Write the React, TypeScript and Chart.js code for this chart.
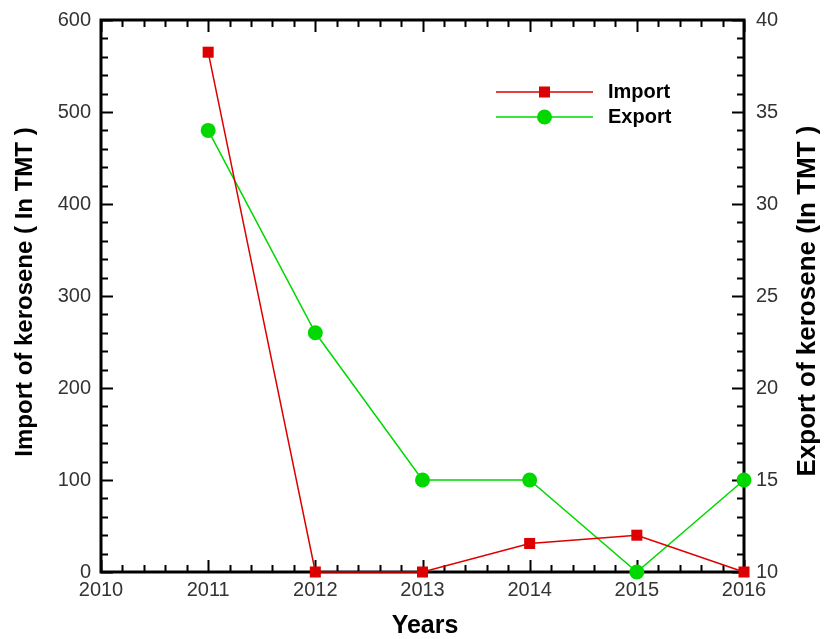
import React, { useEffect, useRef } from "react";
import { Chart, registerables } from "chart.js";

Chart.register(...registerables);

const years = [2011, 2012, 2013, 2014, 2015, 2016];
const importValues = [565, 0, 0, 31, 40, 0];
const exportValues = [34, 23, 15, 15, 10, 15];

const xTitle = "Years";
const leftTitle = "Import of kerosene ( In TMT )";
const rightTitle = "Export of kerosene (In TMT )";
const importLabel = "Import";
const exportLabel = "Export";

const RED = "#dd0000";
const GREEN = "#00d800";
const FONT = "'Liberation Sans', Arial, sans-serif";

const framePlugin = {
  id: "framePlugin",
  beforeDatasetsDraw(chart: any) {
    const { ctx, chartArea: a, scales } = chart;
    const x = scales.x;
    const yl = scales.y;
    ctx.save();
    ctx.strokeStyle = "#000";
    ctx.lineWidth = 2;
    for (let v = 2010; v <= 2016.0001; v += 0.2) {
      const px = Math.round(x.getPixelForValue(v)) + 0.5;
      const major = Math.abs(v - Math.round(v)) < 1e-6;
      const len = major ? 12 : 7;
      ctx.beginPath();
      ctx.moveTo(px, a.bottom);
      ctx.lineTo(px, a.bottom - len);
      ctx.moveTo(px, a.top);
      ctx.lineTo(px, a.top + len);
      ctx.stroke();
    }
    for (let v = 0; v <= 600.0001; v += 20) {
      const py = Math.round(yl.getPixelForValue(v)) + 0.5;
      const major = Math.abs(v / 100 - Math.round(v / 100)) < 1e-6;
      const len = major ? 12 : 7;
      ctx.beginPath();
      ctx.moveTo(a.left, py);
      ctx.lineTo(a.left + len, py);
      ctx.moveTo(a.right, py);
      ctx.lineTo(a.right - len, py);
      ctx.stroke();
    }
    ctx.lineWidth = 3;
    ctx.strokeRect(a.left, a.top, a.right - a.left, a.bottom - a.top);
    ctx.restore();
  },
  afterDraw(chart: any) {
    const { ctx } = chart;
    ctx.save();
    ctx.fillStyle = "#000";
    ctx.font = `bold 25px ${FONT}`;
    ctx.textAlign = "center";
    ctx.textBaseline = "middle";
    ctx.fillText(xTitle, 425, 626);

    ctx.font = `bold 24px ${FONT}`;
    ctx.save();
    ctx.translate(25, 292);
    ctx.rotate(-Math.PI / 2);
    ctx.fillText(leftTitle, 0, 0);
    ctx.restore();

    ctx.font = `bold 26px ${FONT}`;
    ctx.save();
    ctx.translate(808, 301);
    ctx.rotate(-Math.PI / 2);
    ctx.fillText(rightTitle, 0, 0);
    ctx.restore();

    const lx0 = 496;
    const lx1 = 593;
    const rows = [
      { y: 92, color: RED, label: importLabel, square: true },
      { y: 117, color: GREEN, label: exportLabel, square: false },
    ];
    for (const r of rows) {
      ctx.strokeStyle = r.color;
      ctx.lineWidth = 1.5;
      ctx.beginPath();
      ctx.moveTo(lx0, r.y);
      ctx.lineTo(lx1, r.y);
      ctx.stroke();
      ctx.fillStyle = r.color;
      const cx = (lx0 + lx1) / 2;
      if (r.square) {
        ctx.fillRect(cx - 5.5, r.y - 5.5, 11, 11);
      } else {
        ctx.beginPath();
        ctx.arc(cx, r.y, 7.5, 0, Math.PI * 2);
        ctx.fill();
      }
      ctx.fillStyle = "#000";
      ctx.textAlign = "left";
      ctx.font = `bold 20px ${FONT}`;
      ctx.fillText(r.label, 608, r.y);
    }
    ctx.restore();
  },
};

export default function App() {
  const ref = useRef<HTMLCanvasElement | null>(null);
  useEffect(() => {
    if (!ref.current) return;
    const chart = new Chart(ref.current, {
      type: "line",
      data: {
        datasets: [
          {
            label: importLabel,
            data: years.map((y, i) => ({ x: y, y: importValues[i] })),
            borderColor: RED,
            backgroundColor: RED,
            borderWidth: 1.5,
            pointStyle: "rect",
            pointRadius: 7.8,
            pointBorderWidth: 0,
            yAxisID: "y",
            clip: false as any,
          },
          {
            label: exportLabel,
            data: years.map((y, i) => ({ x: y, y: exportValues[i] })),
            borderColor: GREEN,
            backgroundColor: GREEN,
            borderWidth: 1.5,
            pointStyle: "circle",
            pointRadius: 7.5,
            pointBorderWidth: 0,
            yAxisID: "y1",
            clip: false as any,
          },
        ],
      },
      options: {
        animation: false,
        responsive: false,
        layout: { padding: { top: 20, left: 0, right: 0, bottom: 0 } },
        plugins: { legend: { display: false }, tooltip: { enabled: false } },
        scales: {
          x: {
            type: "linear",
            min: 2010,
            max: 2016,
            ticks: {
              stepSize: 1,
              padding: 6,
              color: "#333",
              font: { family: FONT, size: 20 },
              callback: (v: any) => String(v),
            },
            grid: { display: false, drawTicks: false },
            border: { display: false },
            afterFit: (s: any) => {
              s.height = 67;
              s.paddingLeft = 0;
              s.paddingRight = 0;
            },
          },
          y: {
            position: "left",
            min: 0,
            max: 600,
            ticks: {
              stepSize: 100,
              padding: 10,
              color: "#333",
              font: { family: FONT, size: 20 },
            },
            grid: { display: false, drawTicks: false },
            border: { display: false },
            afterFit: (s: any) => {
              s.width = 101;
              s.paddingTop = 0;
              s.paddingBottom = 0;
            },
          },
          y1: {
            position: "right",
            min: 10,
            max: 40,
            ticks: {
              stepSize: 5,
              padding: 12,
              color: "#333",
              font: { family: FONT, size: 20 },
            },
            grid: { display: false, drawTicks: false },
            border: { display: false },
            afterFit: (s: any) => {
              s.width = 80;
              s.paddingTop = 0;
              s.paddingBottom = 0;
            },
          },
        },
      } as any,
      plugins: [framePlugin],
    });
    return () => chart.destroy();
  }, []);
  return (
    <div style={{ position: "fixed", left: 0, top: 0, width: 824, height: 639, background: "#fff" }}>
      <canvas ref={ref} width={824} height={639} style={{ display: "block" }} />
    </div>
  );
}
